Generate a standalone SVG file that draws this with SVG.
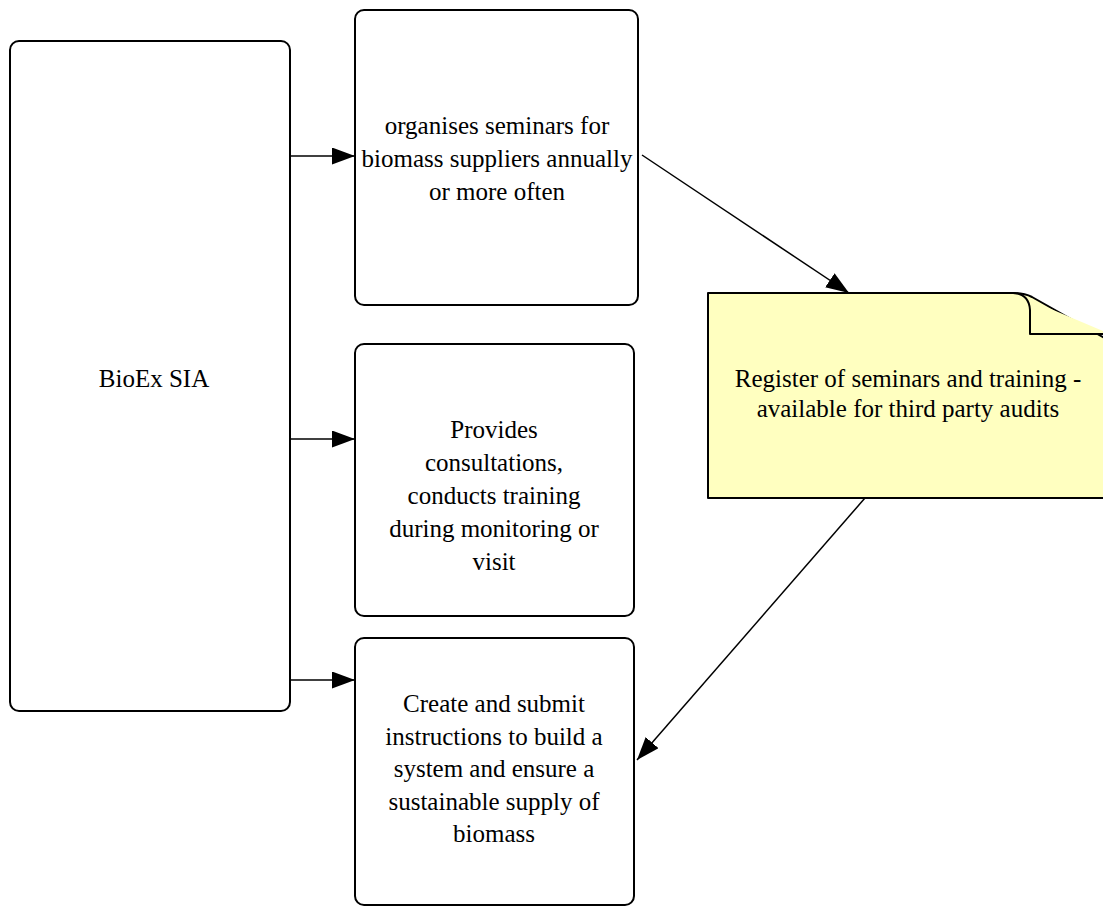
<svg xmlns="http://www.w3.org/2000/svg" width="1103" height="907" viewBox="0 0 1103 907">
<style>
.box{fill:#ffffff;stroke:#000;stroke-width:2}
.note{fill:#ffffc0;stroke:#000;stroke-width:2;stroke-linejoin:round}
.edge{fill:none;stroke:#000;stroke-width:1.5}
text{font-family:"Liberation Serif","Times New Roman",serif;font-size:25px;fill:#000;text-anchor:middle}
</style>
<defs>
<marker id="arr" markerWidth="24" markerHeight="18" refX="23" refY="8.5" orient="auto" markerUnits="userSpaceOnUse">
<path d="M0,0 L23,8.5 L0,17 Z" fill="#000"/>
</marker>
</defs>
<rect width="1103" height="907" fill="#fff"/>
<g id="edges">
<path class="edge" d="M290,156 L355,156" marker-end="url(#arr)"/>
<path class="edge" d="M290,439 L355,439" marker-end="url(#arr)"/>
<path class="edge" d="M290,680 L355,680" marker-end="url(#arr)"/>
<path class="edge" d="M642,155 L849,293" marker-end="url(#arr)"/>
<path class="edge" d="M865,498 L637,760" marker-end="url(#arr)"/>
</g>
<g id="bioex">
<rect class="box" x="10" y="41" width="280" height="670" rx="9"/>
<text x="154" y="387">BioEx SIA</text>
</g>
<g id="seminars">
<rect class="box" x="355" y="10" width="283" height="295" rx="9"/>
<text x="497" y="134">organises seminars for</text>
<text x="497" y="167">biomass suppliers annually</text>
<text x="497" y="200">or more often</text>
</g>
<g id="consultations">
<rect class="box" x="355" y="344" width="279" height="272" rx="9"/>
<text x="494" y="438">Provides</text>
<text x="494" y="471">consultations,</text>
<text x="494" y="504">conducts training</text>
<text x="494" y="537">during monitoring or</text>
<text x="494" y="570">visit</text>
</g>
<g id="instructions">
<rect class="box" x="355" y="638" width="279" height="267" rx="9"/>
<text x="494" y="712">Create and submit</text>
<text x="494" y="745">instructions to build a</text>
<text x="494" y="777">system and ensure a</text>
<text x="494" y="810">sustainable supply of</text>
<text x="494" y="842">biomass</text>
</g>
<g id="register">
<path class="note" d="M708,293 L1013,293 Q1024,293 1032,297 L1110,341 L1110,498 L708,498 Z"/>
<path class="note" d="M1013,293 Q1029,294 1030,310 L1030,334 L1110,334"/>
<text x="908" y="387">Register of seminars and training -</text>
<text x="908" y="417">available for third party audits</text>
</g>
</svg>
